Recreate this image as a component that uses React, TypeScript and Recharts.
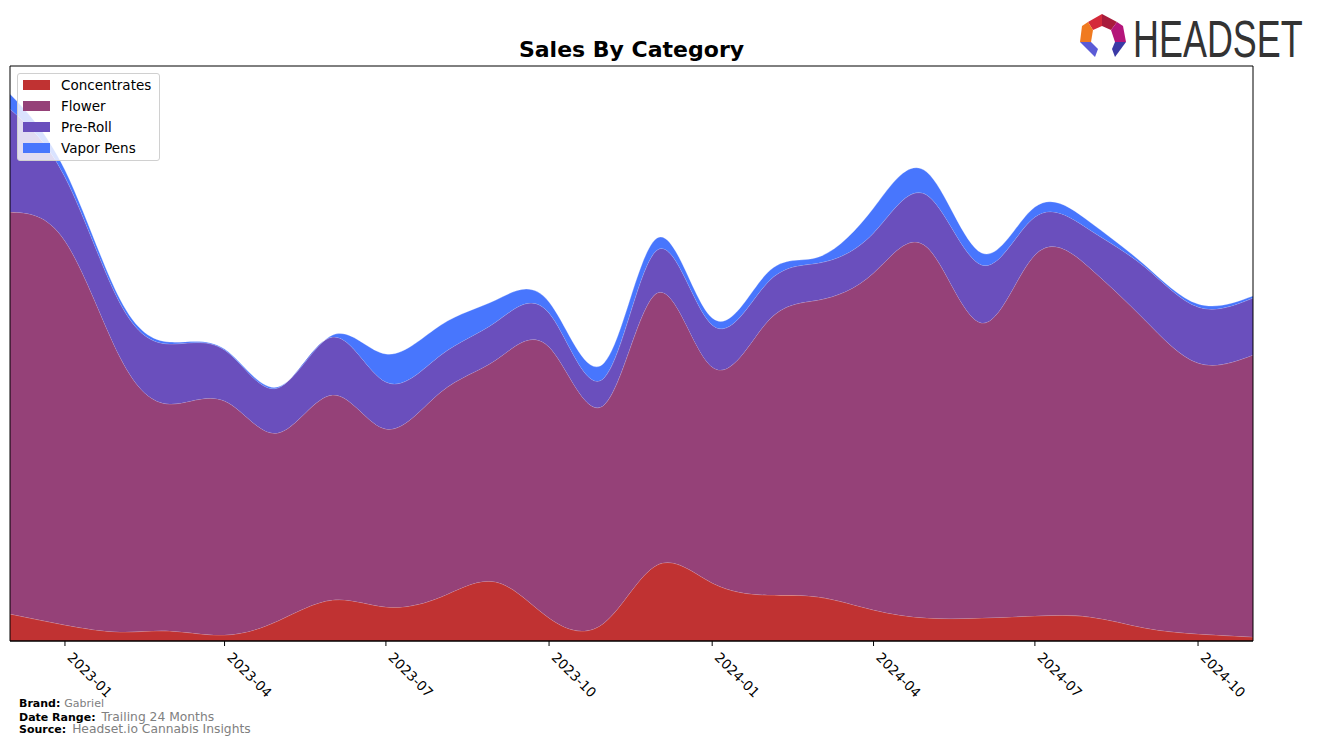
import React from 'react'
import { AreaChart, Area, XAxis, YAxis, ReferenceArea } from 'recharts'

// monthly values (arbitrary units)
const months = [
  '2022-12', '2023-01', '2023-02', '2023-03', '2023-04', '2023-05', '2023-06', '2023-07',
  '2023-08', '2023-09', '2023-10', '2023-11', '2023-12', '2024-01', '2024-02', '2024-03',
  '2024-04', '2024-05', '2024-06', '2024-07', '2024-08', '2024-09', '2024-10', '2024-11'
]
const concentrates = [27, 16, 9, 10, 6, 20, 41, 34, 44, 59, 23, 18, 76, 58, 46, 44, 31, 23, 23, 25, 24, 13, 7, 4]
const flower = [402, 384, 275, 227, 234, 188, 205, 178, 205, 222, 271, 218, 272, 216, 273, 297, 337, 371, 295, 361, 349, 308, 271, 282]
const preRoll = [103, 64, 54, 60, 51, 45, 58, 47, 37, 38, 34, 27, 43, 42, 39, 37, 40, 52, 58, 38, 38, 53, 56, 57]
const vaporPens = [15, 7, 4, 2, 1, 1, 2, 28, 30, 22, 11, 15, 12, 7, 10, 6, 25, 23, 12, 10, 8, 2, 3, 2]
const tickLabels = ['2023-01', '2023-04', '2023-07', '2023-10', '2024-01', '2024-04', '2024-07', '2024-10']

const series = [
  { key: 'Concentrates', color: '#c03232' },
  { key: 'Flower', color: '#954178' },
  { key: 'Pre-Roll', color: '#6a4fbd' },
  { key: 'Vapor Pens', color: '#4876fd' }
]

const toTs = (m: string) => Date.UTC(+m.slice(0, 4), +m.slice(5, 7) - 1, 1)

const data = months.map((m, i) => ({
  t: toTs(m),
  Concentrates: concentrates[i],
  Flower: flower[i],
  'Pre-Roll': preRoll[i],
  'Vapor Pens': vaporPens[i]
}))

const font = '"DejaVu Sans", sans-serif'

const fmt = (v: number) => {
  const d = new Date(v)
  return `${d.getUTCFullYear()}-${String(d.getUTCMonth() + 1).padStart(2, '0')}`
}

const DateTick = ({ x, y, payload }: any) => (
  <text
    x={x + 9}
    y={y + 3}
    transform={`rotate(45 ${x + 9} ${y + 3})`}
    textAnchor="start"
    fontSize={13.5}
    fontFamily={font}
    fill="#000"
    dominantBaseline="hanging"
  >
    {fmt(payload.value)}
  </text>
)

const Logo = () => (
  <svg width={247} height={60} style={{ position: 'absolute', left: 1070, top: 8 }}>
    <polygon points="18,14 32,6 32,18 23,22" fill="#d42a3a" />
    <polygon points="32,6 47,14 41,22 32,18" fill="#a81c3c" />
    <polygon points="12,18 18,14 23,22 21,34 10,34" fill="#f07a20" />
    <polygon points="47,14 53,18 56,34 45,34 41,22" fill="#b4157a" />
    <polygon points="10,34 21,34 28,41 25,49" fill="#5b5bd6" />
    <polygon points="45,34 56,34 45,49 42,41" fill="#3b3aa6" />
    <text
      transform="translate(63 49) scale(0.705 1)"
      fontFamily='"Liberation Sans", sans-serif'
      fontSize={51}
      fill="#333"
    >
      HEADSET
    </text>
  </svg>
)

export default function App() {
  const first = data[0].t
  const last = data[data.length - 1].t
  return (
    <div style={{ position: 'absolute', left: 0, top: 0, width: 1317, height: 745, background: '#fff', fontFamily: font }}>
      <div
        style={{
          position: 'absolute', left: 0, width: 1263, top: 37, textAlign: 'center',
          fontWeight: 'bold', fontSize: 22, color: '#000', lineHeight: '26px'
        }}
      >
        Sales By Category
      </div>
      <Logo />
      <AreaChart
        width={1317}
        height={745}
        data={data}
        margin={{ top: 66, right: 64, left: 10, bottom: 64 }}
      >
        <XAxis
          dataKey="t"
          type="number"
          scale="time"
          domain={[first, last]}
          ticks={tickLabels.map(toTs)}
          tick={<DateTick />}
          tickSize={5}
          tickLine={{ stroke: '#000' }}
          axisLine={{ stroke: '#000' }}
          height={40}
          allowDataOverflow
        />
        <YAxis hide domain={[0, 575]} allowDataOverflow />
        {series.map(s => (
          <Area
            key={s.key}
            type="natural"
            dataKey={s.key}
            stackId="1"
            stroke="rgba(255,255,255,0.35)"
            strokeWidth={0.8}
            fill={s.color}
            fillOpacity={1}
            isAnimationActive={false}
          />
        ))}
        <ReferenceArea
          x1={first}
          x2={last}
          y1={0}
          y2={575}
          fill="none"
          stroke="#000"
          strokeWidth={1}
          ifOverflow="visible"
        />
      </AreaChart>
      <div
        style={{
          position: 'absolute', left: 17, top: 73, width: 141, height: 86,
          border: '1px solid #d0d0d0', borderRadius: 3, background: 'rgba(255,255,255,0.8)'
        }}
      >
        {series.map((s, i) => (
          <div key={s.key} style={{ position: 'absolute', left: 5, top: 2 + i * 21, height: 18, display: 'flex', alignItems: 'center' }}>
            <div style={{ width: 27, height: 10, background: s.color }} />
            <span style={{ marginLeft: 11, fontSize: 13.5, color: '#000', whiteSpace: 'nowrap' }}>{s.key}</span>
          </div>
        ))}
      </div>
      <div style={{ position: 'absolute', left: 19, top: 698, fontSize: 11, whiteSpace: 'nowrap' }}>
        <div style={{ height: 12.5, lineHeight: '12.5px' }}>
          <b>Brand:</b>
          <span style={{ marginLeft: 4, color: '#808080' }}>Gabriel</span>
        </div>
        <div style={{ height: 12.5, lineHeight: '12.5px' }}>
          <b>Date Range:</b>
          <span style={{ marginLeft: 6, fontSize: 12.3, color: '#808080' }}>Trailing 24 Months</span>
        </div>
        <div style={{ height: 12.5, lineHeight: '12.5px' }}>
          <b>Source:</b>
          <span style={{ marginLeft: 6, fontSize: 12.3, color: '#808080' }}>Headset.io Cannabis Insights</span>
        </div>
      </div>
    </div>
  )
}
